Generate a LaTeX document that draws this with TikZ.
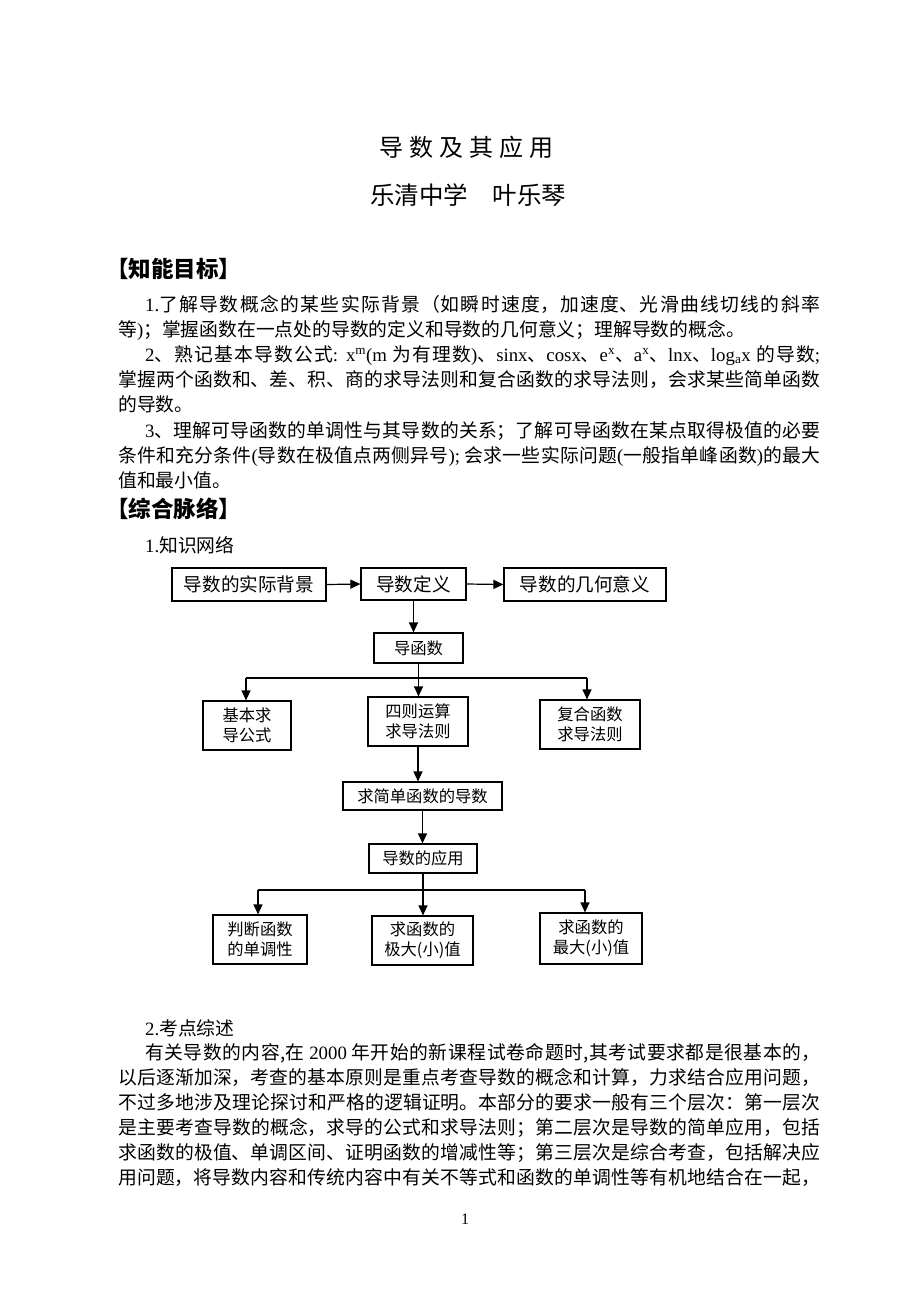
\documentclass[tikz,border=0pt]{standalone}
\usepackage{fontspec}
\setmainfont{Liberation Serif}
\newfontfamily\cjk{Noto Sans CJK SC}
\newfontfamily\tnr{Liberation Serif}
\usetikzlibrary{arrows.meta}
\XeTeXlinebreaklocale "zh"
\XeTeXlinebreakskip=0pt plus 3pt minus 0.3pt
\newcommand\tn[1]{{\tnr #1}}
\newcommand\jl[2]{\parbox[t]{#1}{\cjk\fontsize{18.8}{24}\selectfont\tolerance=10000\hbadness=10000\parfillskip=0pt\relax #2}}
\begin{document}
\begin{tikzpicture}[x=1pt,y=-1pt,
  box/.style={draw=black, line width=1.2pt, inner sep=0pt, align=center, font=\cjk\fontsize{16.3}{20}\selectfont},
  topbox/.style={box, font=\cjk\fontsize{18.6}{22}\selectfont},
  arr/.style={line width=1.2pt, -{Triangle[length=10pt,width=9pt]}},
  bus/.style={line width=1.2pt},
  txt/.style={inner sep=0pt, anchor=base west, font=\cjk\fontsize{18.8}{24}\selectfont},
  head/.style={inner sep=0pt, anchor=base west, font=\cjk\bfseries\fontsize{22.5}{26}\selectfont}]
\fill[white] (0,0) rectangle (920,1302);
\useasboundingbox (0,0) rectangle (920,1302);

% titles
\node[inner sep=0pt, anchor=base, font=\cjk\fontsize{24}{28}\selectfont] (t1) at (466,156) {导\hspace{6pt}数\hspace{6pt}及\hspace{6pt}其\hspace{6pt}应\hspace{6pt}用};
\node[inner sep=0pt, anchor=base, font=\cjk\fontsize{24.5}{28}\selectfont] (t2) at (468,204) {乐清中学　叶乐琴};

% section 1
\node[head] (h1) at (106,277) {【知能目标】};
\node[txt] (l1) at (145,311) {\jl{675pt}{\tn{1.}了解导数概念的某些实际背景（如瞬时速度，加速度、光滑曲线切线的斜率}};
\node[txt] (l2) at (118,336) {等\tn{)}；掌握函数在一点处的导数的定义和导数的几何意义；理解导数的概念。};
\node[txt] (l3) at (145,361) {\jl{675pt}{\tn{2}、熟记基本导数公式\tn{: x\textsuperscript{m}(m }为有理数\tn{)}、\tn{sinx}、\tn{cosx}、\tn{e\textsuperscript{x}}、\tn{a\textsuperscript{x}}、\tn{lnx}、\tn{log\textsubscript{a}x }的导数\tn{;}}};
\node[txt] (l4) at (118,386) {\jl{702pt}{掌握两个函数和、差、积、商的求导法则和复合函数的求导法则，会求某些简单函数}};
\node[txt] (l5) at (118,411) {的导数。};
\node[txt] (l6) at (145,437) {\jl{675pt}{\tn{3}、理解可导函数的单调性与其导数的关系；了解可导函数在某点取得极值的必要}};
\node[txt] (l7) at (118,462) {\jl{702pt}{条件和充分条件\tn{(}导数在极值点两侧异号\tn{);} 会求一些实际问题\tn{(}一般指单峰函数\tn{)}的最大}};
\node[txt] (l8) at (118,487) {值和最小值。};

\node[head] (h2) at (106,517) {【综合脉络】};
\node[txt] (s1) at (145,552) {\tn{1.}知识网络};

% diagram
\node[topbox, minimum width=154pt, minimum height=33pt] (b1) at (249,584.5) {导数的实际背景};
\node[topbox, minimum width=105pt, minimum height=32pt] (b2) at (413.5,584) {导数定义};
\node[topbox, minimum width=162pt, minimum height=33pt] (b3) at (585,584.5) {导数的几何意义};
\node[box, minimum width=89pt, minimum height=30pt] (b4) at (418.5,648) {导函数};
\node[box, minimum width=88pt, minimum height=49pt] (b5) at (247,725.5) {基本求\\导公式};
\node[box, minimum width=100pt, minimum height=49pt] (b6) at (418,721.5) {四则运算\\求导法则};
\node[box, minimum width=100pt, minimum height=49pt] (b7) at (590,724.5) {复合函数\\求导法则};
\node[box, minimum width=159pt, minimum height=28pt] (b8) at (422.5,796) {求简单函数的导数};
\node[box, minimum width=108pt, minimum height=29pt] (b9) at (423,858.5) {导数的应用};
\node[box, minimum width=94pt, minimum height=49pt] (b10) at (260,939.5) {判断函数\\的单调性};
\node[box, minimum width=101pt, minimum height=49pt] (b11) at (422.5,940.5) {求函数的\\极大(小)值};
\node[box, minimum width=102pt, minimum height=51pt] (b12) at (591,938.5) {求函数的\\最大(小)值};

\coordinate (j1) at (246,678);
\coordinate (j2) at (587,678);
\coordinate (j3) at (258,890);
\coordinate (j4) at (585,890);

\draw[arr] (b1.east) -- (b2.west);
\draw[arr] (b2.east) -- (b3.west);
\draw[arr] (b2.south) -- (b2.south |- b4.north);
\draw[bus] (j1) -- (j2);
\draw[arr] (b4.south) -- (b4.south |- b6.north);
\draw[arr] (j1) -- (j1 |- b5.north);
\draw[arr] (j2) -- (j2 |- b7.north);
\draw[arr] (b6.south) -- (b6.south |- b8.north);
\draw[arr] (b8.south) -- (b8.south |- b9.north);
\draw[bus] (j3) -- (j4);
\draw[arr] (b9.south) -- (b9.south |- b11.north);
\draw[arr] (j3) -- (j3 |- b10.north);
\draw[arr] (j4) -- (j4 |- b12.north);

% section 2
\node[txt] (s2) at (145,1035) {\tn{2.}考点综述};
\node[txt] (m1) at (145,1059) {\jl{675pt}{有关导数的内容,在 \tn{2000} 年开始的新课程试卷命题时,其考试要求都是很基本的，}};
\node[txt] (m2) at (118,1084) {\jl{702pt}{以后逐渐加深，考查的基本原则是重点考查导数的概念和计算，力求结合应用问题，}};
\node[txt] (m3) at (118,1109) {\jl{702pt}{不过多地涉及理论探讨和严格的逻辑证明。本部分的要求一般有三个层次：第一层次}};
\node[txt] (m4) at (118,1134) {\jl{702pt}{是主要考查导数的概念，求导的公式和求导法则；第二层次是导数的简单应用，包括}};
\node[txt] (m5) at (118,1159) {\jl{702pt}{求函数的极值、单调区间、证明函数的增减性等；第三层次是综合考查，包括解决应}};
\node[txt] (m6) at (118,1184) {\jl{702pt}{用问题，将导数内容和传统内容中有关不等式和函数的单调性等有机地结合在一起，}};
\node[inner sep=0pt, anchor=base, font=\tnr\fontsize{16}{18}\selectfont] (pg) at (465,1224) {1};
\end{tikzpicture}
\end{document}
